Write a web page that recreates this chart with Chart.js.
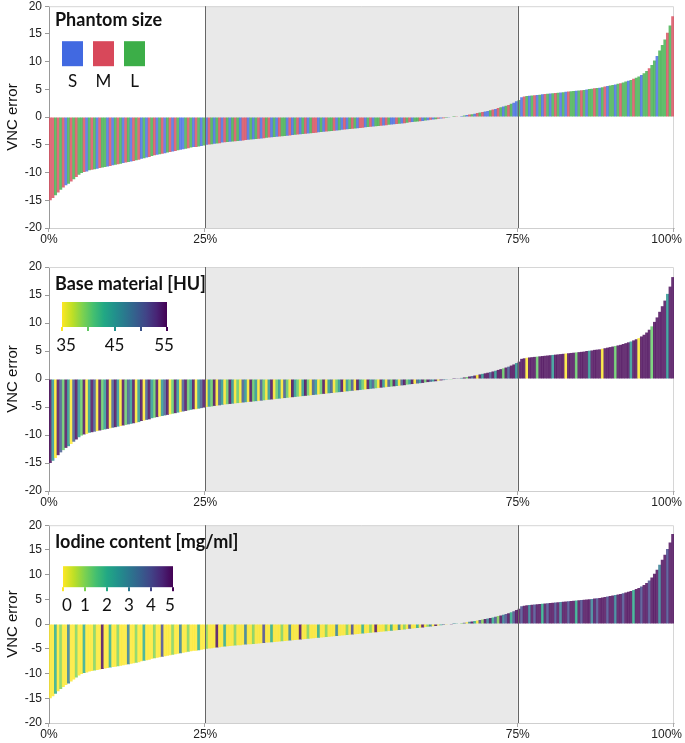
<!DOCTYPE html>
<html>
<head>
<meta charset="utf-8">
<title>VNC error</title>
<script src="https://cdn.jsdelivr.net/npm/chart.js"></script>
<style>
  body { margin: 0; background: #fff; }
  #wrap { position: relative; width: 685px; height: 743px; overflow: hidden; }
  canvas { position: absolute; left: 0; }
</style>
</head>
<body>
<div id="wrap">
  <canvas id="sizeChart" width="685" height="256" style="top:-4px"></canvas>
  <canvas id="baseChart" width="685" height="260" style="top:255px"></canvas>
  <canvas id="iodineChart" width="685" height="228" style="top:515px"></canvas>
</div>
<script>
// sorted VNC errors, one per bar
const vncError = [
  -15.0, -14.6, -14.1, -13.6, -13.1, -12.7, -12.3, -12.0, -11.6, -11.2, -10.8, -10.4,
  -10.1, -9.9, -9.8, -9.6, -9.5, -9.4, -9.3, -9.2, -9.1, -9.0, -8.9, -8.8,
  -8.7, -8.6, -8.5, -8.4, -8.3, -8.2, -8.1, -8.0, -7.9, -7.8, -7.7, -7.5,
  -7.4, -7.3, -7.2, -7.0, -6.9, -6.8, -6.7, -6.6, -6.5, -6.4, -6.3, -6.2,
  -6.1, -6.0, -5.9, -5.8, -5.7, -5.6, -5.5, -5.4, -5.4, -5.3, -5.2, -5.1,
  -5.0, -4.95, -4.9, -4.8, -4.75, -4.7, -4.6, -4.55, -4.5, -4.45, -4.4, -4.35,
  -4.3, -4.27, -4.2, -4.14, -4.1, -4.06, -4.0, -3.96, -3.9, -3.87, -3.8, -3.74,
  -3.7, -3.65, -3.6, -3.55, -3.5, -3.45, -3.4, -3.35, -3.3, -3.25, -3.2, -3.15,
  -3.1, -3.05, -3.0, -2.95, -2.9, -2.85, -2.8, -2.75, -2.7, -2.65, -2.6, -2.55,
  -2.5, -2.45, -2.4, -2.35, -2.3, -2.25, -2.2, -2.15, -2.1, -2.05, -2.0, -1.95,
  -1.9, -1.85, -1.8, -1.75, -1.7, -1.65, -1.6, -1.55, -1.5, -1.45, -1.4, -1.35,
  -1.3, -1.25, -1.2, -1.15, -1.1, -1.0, -0.95, -0.9, -0.85, -0.8, -0.75, -0.7,
  -0.6, -0.55, -0.5, -0.45, -0.4, -0.3, -0.25, -0.2, -0.15, -0.1, -0.05, 0.02,
  0.05, 0.12, 0.2, 0.28, 0.36, 0.45, 0.53, 0.62, 0.72, 0.82, 0.92, 1.02,
  1.12, 1.22, 1.35, 1.48, 1.62, 1.76, 1.9, 2.05, 2.2, 2.4, 2.6, 2.85,
  3.1, 3.6, 3.7, 3.8, 3.85, 3.9, 3.95, 4.0, 4.05, 4.1, 4.15, 4.2,
  4.25, 4.3, 4.35, 4.4, 4.45, 4.5, 4.55, 4.6, 4.65, 4.7, 4.75, 4.8,
  4.85, 4.9, 5.0, 5.05, 5.1, 5.2, 5.25, 5.3, 5.4, 5.5, 5.6, 5.7,
  5.8, 5.9, 6.0, 6.1, 6.25, 6.4, 6.55, 6.7, 6.9, 7.1, 7.3, 7.6,
  7.9, 8.3, 8.8, 9.4, 10.2, 11.0, 12.0, 13.0, 14.0, 15.2, 16.5, 18.2
];

const phantomSize = (
  "MMLMLMSLMLML" + "LMSLMLSMLLSM" + "SLMLSMLSMLMS" + "LSMLMSLMSLMS" +
  "MLSSLMLSMLSL" + "SMLSLMSMLSLM" + "LSMMSLSLMSML" + "MSLSMLLSMSLM" +
  "SLMSLMMSLSML" + "LMSLSMSLMLSM" + "MSLMSLLMSMLS" + "SMLSMLMSLLMS" +
  "LSMSLMSMLSML" + "MLSLSMLSMLMS" + "SLMSMLSLMLSS" + "LSMLSLMSLSML" +
  "SLMLSLSMLLSL" + "MLSLLMLSLMSL" + "LSLMLLSLMLLS" + "LLMLLSLLLMLM"
).split("");

const baseMaterial = [
  55,45,35,55,50,40,55,45,35,50,55,45,
  40,55,35,45,55,50,35,55,40,45,55,35,
  50,55,45,35,55,40,50,45,55,35,45,55,
  35,50,55,45,40,55,35,45,50,55,35,40,
  55,45,35,50,55,40,45,55,35,45,50,55,
  35,45,40,55,35,50,45,35,40,55,45,35,
  40,35,50,45,35,55,40,45,35,50,40,35,
  45,55,35,40,45,35,50,40,35,55,45,40,
  35,45,55,40,35,50,45,35,40,55,35,45,
  50,35,40,45,55,35,45,40,50,35,55,45,
  40,35,55,45,50,40,35,55,45,35,50,40,
  55,45,35,50,55,40,45,55,35,50,45,55,
  40,55,50,45,55,35,55,50,45,55,40,55,
  50,55,45,55,40,55,50,55,35,55,45,55,
  55,50,55,45,55,55,40,55,50,55,55,45,
  55,55,55,35,55,55,55,40,55,55,55,55,
  55,45,55,55,55,55,35,55,55,55,40,55,
  55,55,55,45,55,55,55,55,35,55,55,55,
  55,40,55,55,55,55,55,45,55,55,35,55,
  55,55,55,40,55,55,55,55,55,45,55,55
];

const iodineContent = [
  0,0,2,0,1,0,0,3,0,0,1,0,
  0,2,0,0,0,1,0,0,5,0,0,2,
  0,0,1,0,0,0,3,0,0,1,0,0,
  2,0,0,0,1,0,0,4,0,0,0,1,
  0,0,3,0,0,1,0,0,0,2,0,0,
  1,0,0,0,5,0,0,2,0,0,0,1,
  0,0,0,3,0,0,1,0,0,0,4,0,
  0,2,0,0,0,1,0,0,3,0,0,0,
  5,0,0,1,0,0,0,2,0,0,1,0,
  0,0,3,0,0,0,1,0,4,0,0,0,
  2,0,0,1,0,5,0,0,0,1,0,2,
  0,0,3,0,1,0,4,0,0,2,0,5,
  0,1,3,0,5,0,2,4,0,1,5,3,
  2,5,1,4,0,3,5,2,0,4,1,5,
  3,5,2,4,1,5,3,4,5,2,4,5,
  5,4,5,5,3,5,4,5,5,2,5,4,
  5,5,4,5,3,5,5,4,5,5,2,5,
  4,5,5,5,3,5,4,5,5,5,4,5,
  5,3,5,5,4,5,5,5,2,5,5,4,
  5,5,4,5,5,5,3,5,5,4,5,5
];

const xTicks = [0, 25, 75, 100];
const sizeNames = ["S", "M", "L"];
const baseTicks = [35, 40, 45, 50, 55];
const baseLabels = [35, 45, 55];
const iodineTicks = [0, 1, 2, 3, 4, 5];

const sizeRgb = { S: [65, 105, 225], M: [216, 72, 90], L: [60, 174, 72] };
const viridisStops = ['#440154','#482475','#414487','#355f8d','#2a788e','#21918c',
                      '#22a884','#44bf70','#7ad151','#bddf26','#fde725'];

function hexRgb(h) {
  return [1, 3, 5].map(k => parseInt(h.slice(k, k + 2), 16));
}
function viridis(t, a) {
  const s = Math.max(0, Math.min(1, t)) * 10;
  const i = Math.min(9, Math.floor(s)), f = s - i;
  const c0 = hexRgb(viridisStops[i]), c1 = hexRgb(viridisStops[i + 1]);
  const c = c0.map((v, k) => Math.round(v + (c1[k] - v) * f));
  return `rgba(${c[0]},${c[1]},${c[2]},${a})`;
}
const baseColor = (v, a) => viridis(1 - (v - 35) / 20, a);
const iodineColor = (v, a) => viridis(1 - v / 5, a);

const legendFont = 'Lato, "Open Sans", sans-serif';
const axisFont = '"Liberation Sans", Arial, sans-serif';

function colorBar(ctx, x0, y0, w, h, ticks, lo, hi, colorOf, labels) {
  const g = ctx.createLinearGradient(x0, 0, x0 + w, 0);
  for (let k = 0; k <= 10; k++) g.addColorStop(k / 10, viridis(1 - k / 10, 1));
  ctx.fillStyle = g;
  ctx.fillRect(x0, y0, w, h);
  ticks.forEach(t => {
    const px = x0 + (t - lo) / (hi - lo) * w;
    ctx.fillStyle = colorOf(t, 1);
    ctx.fillRect(Math.round(px) - 1, y0 + h, 2, 4);
  });
  ctx.fillStyle = '#111';
  ctx.font = '17px ' + legendFont;
  ctx.textAlign = 'center';
  ctx.textBaseline = 'alphabetic';
  labels.forEach((t, i) => {
    let px = x0 + (t - lo) / (hi - lo) * w;
    if (i === 0) px += 4;
    if (i === labels.length - 1) px -= 3;
    ctx.fillText(String(t), px, y0 + h + 24);
  });
}

function deco(drawLegend) {
  return {
    id: 'deco',
    beforeDatasetsDraw(chart) {
      const { ctx, chartArea: a, scales: { x } } = chart;
      ctx.save();
      const x25 = x.getPixelForValue(25), x75 = x.getPixelForValue(75);
      ctx.fillStyle = '#e9e9e9';
      ctx.fillRect(x25, a.top, x75 - x25, a.bottom - a.top);
      ctx.strokeStyle = '#d6d6d6';
      ctx.lineWidth = 1;
      ctx.beginPath();
      ctx.moveTo(a.left, a.top + 0.5);
      ctx.lineTo(a.right - 0.5, a.top + 0.5);
      ctx.lineTo(a.right - 0.5, a.bottom);
      ctx.stroke();
      ctx.restore();
    },
    afterDatasetsDraw(chart) {
      const { ctx, chartArea: a, scales: { x } } = chart;
      ctx.save();
      // quartile lines
      ctx.strokeStyle = '#666';
      ctx.lineWidth = 1;
      [25, 75].forEach(v => {
        const px = Math.round(x.getPixelForValue(v)) + 0.5;
        ctx.beginPath();
        ctx.moveTo(px, a.top);
        ctx.lineTo(px, a.bottom);
        ctx.stroke();
      });
      // x axis ticks and labels
      ctx.font = '12px ' + axisFont;
      ctx.fillStyle = '#222';
      ctx.textAlign = 'center';
      ctx.textBaseline = 'middle';
      ctx.strokeStyle = '#aaa';
      xTicks.forEach(t => {
        const px = x.getPixelForValue(t);
        ctx.beginPath();
        ctx.moveTo(Math.round(px) - 0.5, a.bottom);
        ctx.lineTo(Math.round(px) - 0.5, a.bottom + 4);
        ctx.stroke();
        const label = t + '%';
        const w = ctx.measureText(label).width;
        const cx = Math.min(px, chart.width - 3 - w / 2);
        ctx.fillText(label, cx, a.bottom + 12);
      });
      drawLegend(ctx, a);
      ctx.restore();
    }
  };
}

function makeChart(id, colors, padTop, xHeight, drawLegend) {
  const n = vncError.length;
  const points = vncError.map((v, i) => ({ x: (i + 0.5) / n * 100, y: v }));
  return new Chart(document.getElementById(id), {
    type: 'bar',
    data: {
      datasets: [{
        data: points,
        backgroundColor: colors,
        borderWidth: 0,
        barPercentage: 1.15,
        categoryPercentage: 1
      }]
    },
    options: {
      responsive: false,
      animation: false,
      devicePixelRatio: 1,
      layout: { padding: { top: padTop, right: 11, left: 0, bottom: 0 } },
      plugins: { legend: { display: false }, tooltip: { enabled: false } },
      scales: {
        x: {
          type: 'linear', min: 0, max: 100, offset: false,
          grid: { display: false, offset: false },
          border: { display: true, color: '#cfcfcf' },
          ticks: { display: false },
          afterFit: s => { s.height = xHeight; }
        },
        y: {
          min: -20, max: 20,
          ticks: { stepSize: 5, color: '#222', padding: 3, font: { family: axisFont, size: 12 } },
          grid: { drawOnChartArea: false, tickLength: 4, color: '#999' },
          border: { color: '#999' },
          title: {
            display: true, text: 'VNC error', color: '#111',
            padding: { top: 4, bottom: 0 },
            font: { family: axisFont, size: 15 }
          },
          afterFit: s => { s.width = 49; }
        }
      }
    },
    plugins: [deco(drawLegend)]
  });
}

makeChart('sizeChart', phantomSize.map(s => `rgba(${sizeRgb[s].join(',')},0.8)`), 6, 24, (ctx, a) => {
  ctx.fillStyle = '#111';
  ctx.font = 'bold 18px ' + legendFont;
  ctx.textAlign = 'left';
  ctx.textBaseline = 'alphabetic';
  ctx.fillText('Phantom size', a.left + 6, a.top + 20);
  sizeNames.forEach((s, i) => {
    const x0 = a.left + 13 + i * 31;
    ctx.fillStyle = `rgb(${sizeRgb[s].join(',')})`;
    ctx.fillRect(x0, a.top + 35, 21, 25);
    ctx.fillStyle = '#111';
    ctx.font = '17px ' + legendFont;
    ctx.textAlign = 'center';
    ctx.fillText(s, x0 + 10.5, a.top + 81);
  });
});

makeChart('baseChart', baseMaterial.map(v => baseColor(v, 0.8)), 12, 24, (ctx, a) => {
  ctx.fillStyle = '#111';
  ctx.font = 'bold 18px ' + legendFont;
  ctx.textAlign = 'left';
  ctx.textBaseline = 'alphabetic';
  ctx.fillText('Base material [HU]', a.left + 6, a.top + 23);
  colorBar(ctx, a.left + 13, a.top + 35, 105, 25, baseTicks, 35, 55, baseColor, baseLabels);
});

makeChart('iodineChart', iodineContent.map(v => iodineColor(v, 0.8)), 10, 20, (ctx, a) => {
  ctx.fillStyle = '#111';
  ctx.font = 'bold 18px ' + legendFont;
  ctx.textAlign = 'left';
  ctx.textBaseline = 'alphabetic';
  ctx.fillText('Iodine content [mg/ml]', a.left + 6, a.top + 23);
  colorBar(ctx, a.left + 14, a.top + 41, 110, 21, iodineTicks, 0, 5, iodineColor, iodineTicks);
});
</script>
</body>
</html>
